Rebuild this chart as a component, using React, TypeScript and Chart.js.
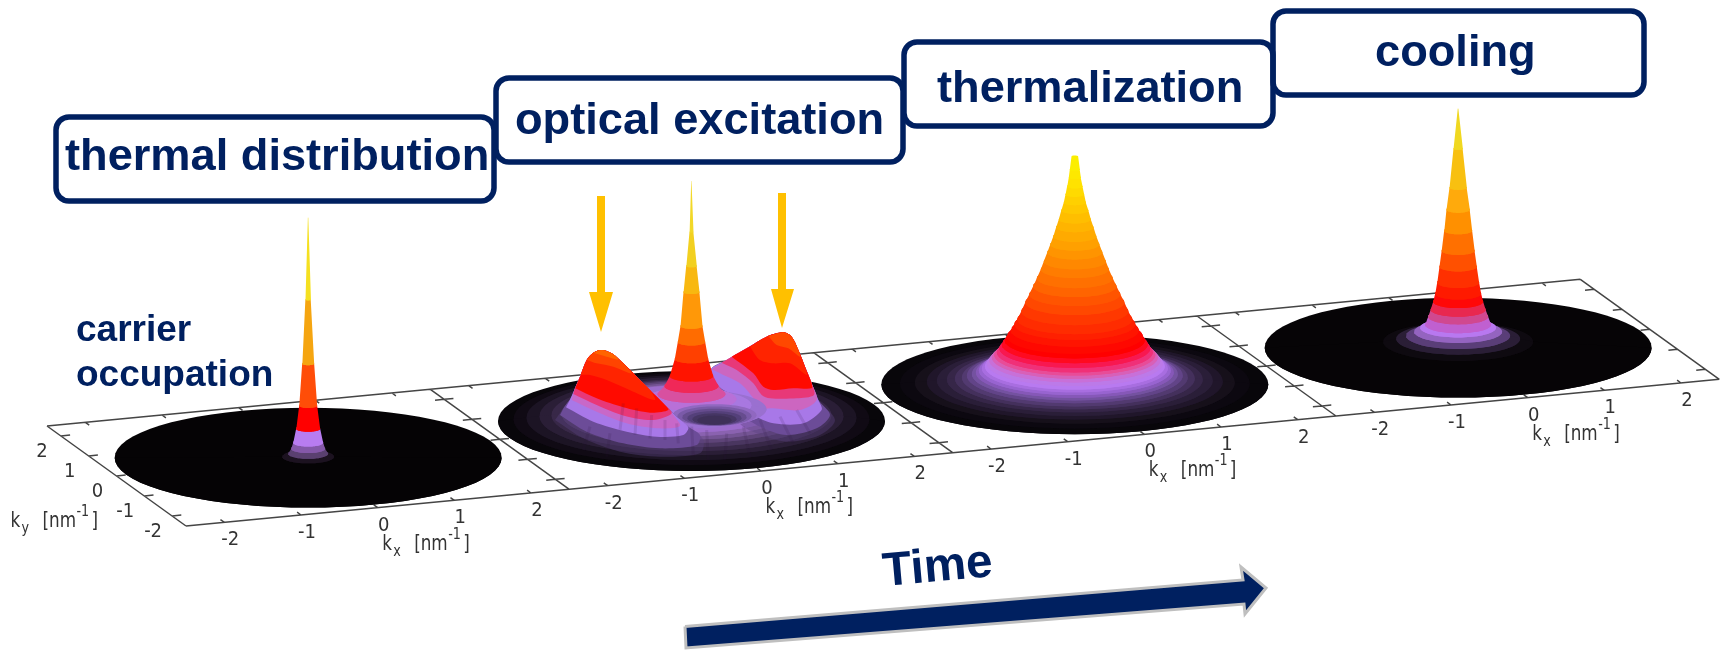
import React, { useEffect, useRef } from "react";
import { Chart, registerables } from "chart.js";
Chart.register(...registerables);

const kxTicks = [-2, -1, 0, 1, 2];
const kyTicks = [-2, -1, 0, 1, 2];
const kxLabels = ["-2", "-1", "0", "1", "2"];
const kyLabels = ["-2", "-1", "0", "1", "2"];
const stageNames = ["thermal distribution", "optical excitation", "thermalization", "cooling"];

// rings of each carrier occupation surface: radius and height above the plane, outermost first
const thermalRadius = [193.5, 26, 20, 17, 15, 12, 9, 6, 2.8, 0.3];
const thermalHeight = [0, 1, 4, 9, 15, 29, 52, 94, 158, 240];
const thermalColors = ["#050305", "#1c1220", "#5a4070", "#8458a8", "#b87cf0", "#ff0000", "#ff4d08", "#f5a510", "#f5e020"];

const hotRadius = [193.5, 175, 160, 148, 138, 128, 120, 113, 108, 103, 99, 96, 93, 90, 88, 85.5, 83, 80.5, 78, 75.5, 73, 70, 68, 64, 60.5, 57.5, 53.5, 49.5, 45.5, 41.7, 38, 34, 31, 27.5, 24.5, 21.5, 18.7, 16, 13.5, 11, 9.3, 7.7, 6, 5, 3.3];
const hotHeight = [0, 1, 2, 3, 4, 5, 6, 7, 9, 10.5, 12, 14, 16, 18, 21, 24, 27, 29.5, 32, 36, 40, 44, 48, 54, 60, 65, 73, 82, 90, 98, 106, 115, 123, 132, 140, 148, 157, 165, 174, 182, 190, 198, 207, 215, 228];
const hotColors = ["#08060a", "#0c0810", "#16101a", "#20162a", "#2a1e38", "#362648", "#44305c", "#523a70", "#624488", "#7452a0", "#8658b8", "#9864d0", "#a86ee0", "#b87af0", "#bc7ae8", "#c870d8", "#d860b8", "#e84c98", "#f03078", "#f81850", "#ff0a20", "#ff0000", "#ff0800", "#ff1400", "#ff2000", "#ff2c00", "#ff3800", "#ff4800", "#ff5400", "#ff6400", "#ff7000", "#ff7c00", "#ff8800", "#ff9400", "#ffa000", "#ffaa00", "#ffb400", "#ffbe00", "#ffc800", "#ffd000", "#ffda00", "#ffe200", "#fde800", "#fbee00"];

const coolRadius = [193.5, 75, 62, 52, 44, 38, 33, 30, 27.5, 25, 23, 21, 18.7, 16.5, 14, 11.7, 8.7, 4.7, 0.4];
const coolHeight = [0, 6, 9, 12, 16, 20, 23, 31, 38, 46, 54, 65, 81, 97, 117, 138, 160, 199, 239];
const coolColors = ["#060406", "#0e0a10", "#2a1e36", "#5a3e78", "#9464c0", "#b878f0", "#c060d0", "#d04890", "#e82850", "#ff0808", "#ff1a00", "#ff3000", "#ff5000", "#ff7000", "#ff9000", "#ffaa0c", "#f8c010", "#f0d820"];

const opticalRadius = [193.5, 178, 165, 152, 140, 130, 120, 110, 100, 92, 85];
const opticalHeight = [0, 2, 3.5, 5, 6, 7.5, 9, 10, 11, 12.5, 14];
const opticalColors = ["#08060a", "#100a14", "#1c1424", "#2a1e36", "#382848", "#4a3660", "#5e4478", "#745494", "#8a62b0", "#9c6ccc"];

const spikeRadius = [75, 60, 45, 34, 27, 21.7, 16.7, 13.7, 11, 8, 5.3, 2, 0.3];
const spikeHeight = [12, 16, 22, 27, 35, 45, 62, 79, 95, 129, 155, 189, 240];
const spikeColors = ["#9a70d0", "#a878e0", "#b870d8", "#d850a0", "#f02858", "#ff1400", "#ff4000", "#ff6c00", "#ff9808", "#f8b810", "#f2d020", "#f2d828"];

const dimpleRadius = [42, 37, 32, 27, 22, 17];
const dimpleHeight = [6, 5, 4, 3, 2, 1];
const dimpleColors = ["#9068c0", "#7a5aa8", "#664c8e", "#54407a", "#463664", "#3e3058"];

// lobes of the optically excited carriers, widest band first
const rightLobeBands = [
  [[495,215],[515,145],[560,120],[620,85],[680,50],[730,37],[755,50],[775,90],[795,140],[815,190],[835,240],[885,300],[840,345],[740,365],[650,340],[600,310],[630,270],[560,240]],
  [[500,200],[515,145],[560,120],[620,85],[680,50],[730,37],[755,50],[775,90],[795,140],[815,190],[835,240],[870,285],[830,325],[740,345],[660,320],[620,290],[640,260],[560,230]],
  [[510,170],[515,145],[560,120],[620,85],[680,50],[730,37],[755,50],[775,90],[795,140],[815,190],[835,240],[845,270],[790,310],[700,310],[640,285],[620,265],[610,235],[550,210]],
  [[515,148],[560,120],[620,85],[680,50],[730,37],[755,50],[775,90],[795,140],[815,190],[830,240],[780,270],[700,265],[655,265],[640,235],[600,190],[550,165]],
  [[545,128],[620,85],[680,50],[730,37],[755,50],[775,90],[795,140],[815,190],[822,225],[770,235],[690,235],[665,225],[640,190],[590,150]],
  [[575,110],[620,85],[680,50],[730,37],[755,50],[775,90],[795,140],[815,190],[815,205],[760,205],[700,210],[670,200],[640,160]],
  [[630,80],[680,50],[730,37],[755,50],[775,90],[795,140],[800,165],[750,130],[700,130],[660,120]],
  [[685,48],[730,37],[755,50],[775,90],[780,110],[745,85],[710,75]],
];
const rightLobeColors = ["rgba(90,64,128,0.4)", "#6c4c98", "#a878e8", "#cc66c0", "#e83878", "#ff0a00", "#ff2400", "#ff4800"];

const leftLobeBands = [
  [[45,300],[75,258],[92,235],[105,205],[122,165],[140,120],[160,98],[185,90],[215,100],[250,130],[290,170],[330,210],[370,250],[410,290],[445,320],[490,360],[480,400],[360,410],[240,395],[130,355]],
  [[60,285],[75,258],[92,235],[105,205],[122,165],[140,120],[160,98],[185,90],[215,100],[250,130],[290,170],[330,210],[370,250],[410,290],[445,320],[480,345],[470,375],[360,385],[250,370],[140,335]],
  [[78,262],[92,235],[105,205],[122,165],[140,120],[160,98],[185,90],[215,100],[250,130],[290,170],[330,210],[370,250],[410,290],[445,322],[430,345],[350,350],[260,335],[160,305]],
  [[95,240],[105,205],[122,165],[140,120],[160,98],[185,90],[215,100],[250,130],[290,170],[330,210],[370,250],[400,285],[420,318],[350,325],[260,310],[170,275]],
  [[100,222],[105,205],[122,165],[140,120],[160,98],[185,90],[215,100],[250,130],[290,170],[330,210],[370,250],[395,280],[340,300],[255,288],[170,255]],
  [[106,205],[122,165],[140,120],[160,98],[185,90],[215,100],[250,130],[290,170],[330,210],[370,250],[385,270],[330,278],[250,262],[170,235]],
  [[122,165],[140,120],[160,98],[185,90],[215,100],[250,130],[290,170],[330,210],[345,240],[280,215],[200,180],[150,165]],
  [[140,120],[160,98],[185,90],[215,100],[250,130],[275,160],[220,140],[170,130]],
  [[160,98],[185,90],[215,100],[235,118],[200,110]],
];
const leftLobeColors = ["rgba(90,64,128,0.4)", "#6c4c98", "#a878e8", "#c868c8", "#e83878", "#ff0a00", "#ff2400", "#ff4400", "#ff6400"];

const ripples = [
  [[250,250],[240,330]], [[290,265],[285,345]], [[335,285],[330,355]], [[375,300],[375,360]], [[410,310],[415,370]],
  [[455,320],[460,410]], [[500,330],[505,420]], [[560,340],[555,420]], [[610,320],[630,410]], [[660,300],[695,390]],
  [[720,290],[760,370]], [[770,270],[810,340]], [[150,320],[130,390]], [[210,340],[200,410]],
];

const leftPump = [[597,196],[605,196],[605,292],[613,292],[601,332],[589,292],[597,292]];
const rightPump = [[778,193],[786,193],[786,289],[794,289],[782,328],[771,289],[778,289]];
const timeArrow = [[685,626.5],[686,648],[1244,604],[1245,614],[1266,588],[1241,567],[1243,580],[685,626.5]];

const navy = "#002060";
const ink = "#333333";
const panelStep = { x: 383.33, y: -36.67 };
const depth = { x: 139, y: 100 };
const origin = { x: 47, y: 426 };
const squash = 0.258;

function frame(i: number, kx: number, ky: number) {
  const a = (kx + 2.5) / 5, b = (2.5 - ky) / 5;
  return { x: origin.x + (i + a) * panelStep.x + b * depth.x, y: origin.y + (i + a) * panelStep.y + b * depth.y };
}

function ellipseArc(cx: number, cy: number, r: number, from: number, to: number) {
  const pts = [];
  const n = 36;
  for (let j = 0; j <= n; j++) {
    const t = from + ((to - from) * j) / n;
    pts.push({ x: cx + r * Math.cos(t), y: cy + r * squash * Math.sin(t) });
  }
  return pts;
}

function polygon(points: { x: number; y: number }[], color: string, extra: object = {}) {
  return { data: points, showLine: true, fill: "shape", backgroundColor: color, borderColor: color, borderWidth: 0, pointRadius: 0, ...extra };
}

function surface(cx: number, cy: number, radius: number[], height: number[], colors: string[]) {
  const out = [];
  for (let k = 0; k < colors.length; k++) {
    const low = ellipseArc(cx, cy - height[k], radius[k], 0, Math.PI);
    const lowBack = ellipseArc(cx, cy - height[k], radius[k], Math.PI, 2 * Math.PI);
    const high = ellipseArc(cx, cy - height[k + 1], radius[k + 1], Math.PI, 2 * Math.PI);
    out.push(polygon([...low, ...lowBack], colors[k]));
    out.push(polygon([...low, ...high, low[0]], colors[k]));
  }
  return out;
}

function crop(list: number[][]) {
  const pts = list.map(([x, y]) => ({ x: 540 + x / 3, y: 320 + y / 3 }));
  return [...pts, pts[0]];
}

function plain(list: number[][]) {
  return list.map(([x, y]) => ({ x, y }));
}

function frameLines() {
  const seg: any[] = [];
  const add = (a: any, b: any) => seg.push(a, b, { x: null, y: null });
  for (let i = 0; i < 4; i++) {
    add(frame(i, -2.5, 2.5), frame(i + 1, -2.5, 2.5));
    add(frame(i, -2.5, -2.5), frame(i + 1, -2.5, -2.5));
    add(frame(i, -2.5, 2.5), frame(i, -2.5, -2.5));
    if (i === 3) add(frame(i, 2.5, 2.5), frame(i, 2.5, -2.5));
    for (const v of kxTicks) {
      add(frame(i, v, 2.5), frame(i, v, 2.36));
      add(frame(i, v, -2.5), frame(i, v, -2.36));
    }
    for (const v of kyTicks) {
      add(frame(i, -2.5, v), frame(i, -2.38, v));
      add(frame(i, 2.5, v), frame(i, 2.38, v));
    }
  }
  return seg;
}

function rippleLines() {
  const seg: any[] = [];
  ripples.forEach((r) => {
    const p = crop(r);
    seg.push(p[0], p[1], { x: null, y: null });
  });
  return seg;
}

function buildDatasets() {
  const ds: any[] = [];
  ds.push({ data: frameLines(), showLine: true, borderColor: "#454545", borderWidth: 1.5, pointRadius: 0, fill: false });
  const c0 = frame(0, 0, 0), c1 = frame(1, 0, 0), c2 = frame(2, 0, 0), c3 = frame(3, 0, 0);
  ds.push(...surface(c0.x, c0.y, thermalRadius, thermalHeight, thermalColors));
  ds.push(...surface(c1.x, c1.y, opticalRadius, opticalHeight, opticalColors));
  rightLobeBands.forEach((b, k) => ds.push(polygon(crop(b), rightLobeColors[k], { tension: 0.3 })));
  ds.push(...surface(c1.x, c1.y, spikeRadius, spikeHeight, spikeColors));
  ds.push(...surface(c1.x + 23, c1.y, dimpleRadius, dimpleHeight, dimpleColors));
  leftLobeBands.forEach((b, k) => ds.push(polygon(crop(b), leftLobeColors[k], { tension: 0.3 })));
  ds.push({ data: rippleLines(), showLine: true, borderColor: "rgba(40,15,60,0.12)", borderWidth: 3, pointRadius: 0, fill: false });
  ds.push(...surface(c2.x, c2.y, hotRadius, hotHeight, hotColors));
  ds.push(...surface(c3.x, c3.y, coolRadius, coolHeight, coolColors));
  ds.push(polygon(plain(leftPump), "#ffc000"), polygon(plain(rightPump), "#ffc000"));
  ds.push(polygon(plain(timeArrow), navy, { borderColor: "#bfbfbf", borderWidth: 3 }));
  return ds.reverse();
}

const boxes = [
  [56, 117, 438, 84], [496, 78, 407, 84], [904, 42, 369, 84], [1273, 11, 371, 84],
];
const stageAnchors = [[65, 170], [515, 134], [937, 102], [1375, 66]];

const annotations = {
  id: "annotations",
  afterDatasetsDraw(chart: any) {
    const { ctx, scales } = chart;
    const X = (v: number) => scales.x.getPixelForValue(v);
    const Y = (v: number) => scales.y.getPixelForValue(v);
    const text = (s: string, x: number, y: number, font: string, color: string, align = "left", hs = 1, rot = 0) => {
      ctx.save();
      ctx.translate(X(x), Y(y));
      ctx.rotate(rot);
      ctx.scale(hs, 1);
      ctx.font = font;
      ctx.fillStyle = color;
      ctx.textAlign = align;
      ctx.textBaseline = "alphabetic";
      ctx.fillText(s, 0, 0);
      ctx.restore();
    };
    ctx.save();
    ctx.strokeStyle = navy;
    ctx.lineWidth = 5.5;
    boxes.forEach(([x, y, w, h]) => {
      ctx.beginPath();
      ctx.roundRect(X(x), Y(y), w, h, 13);
      ctx.stroke();
    });
    ctx.restore();
    const big = 'bold 45.2px "Liberation Sans"';
    stageNames.forEach((s, i) => text(s, stageAnchors[i][0], stageAnchors[i][1], big, navy));
    const mid = 'bold 37px "Liberation Sans"';
    text("carrier", 76, 341, mid, navy);
    text("occupation", 76, 386, mid, navy);
    text("Time", 884, 586, 'bold 47.5px "Liberation Sans"', navy, "left", 1, -0.09);
    const num = '20px "DejaVu Sans"';
    const word = '21px "DejaVu Sans"';
    const sub = '15px "DejaVu Sans"';
    const axisName = (axis: string, bx: number, by: number) => {
      text("k", bx, by, word, ink, "left", 0.8);
      text(axis, bx + 11, by + 6, sub, ink, "left", 0.85);
      text("[nm", bx + 32, by, word, ink, "left", 0.8);
      text("-1", bx + 66, by - 11, sub, ink, "left", 0.85);
      text("]", bx + 81, by, word, ink, "left", 0.8);
    };
    for (let i = 0; i < 4; i++) {
      kxTicks.forEach((v, k) => {
        const p = frame(i, v, -2.5);
        text(kxLabels[k], p.x + 6, p.y + 23, num, ink, "center", 0.9);
      });
      const a = frame(i, 0, -2.5);
      axisName("x", a.x + 4.5, a.y + 42);
    }
    kyTicks.forEach((v, k) => {
      const p = frame(0, -2.5, v);
      text(kyLabels[k], p.x - 19, p.y + 21, num, ink, "center", 0.9);
    });
    axisName("y", 10.5, 527);
  },
};

export default function App() {
  const ref = useRef<HTMLCanvasElement>(null);
  useEffect(() => {
    const chart = new Chart(ref.current as any, {
      type: "scatter",
      data: { datasets: buildDatasets() },
      options: {
        animation: false,
        responsive: false,
        devicePixelRatio: 1,
        layout: { padding: 0 },
        elements: { line: { tension: 0 } },
        plugins: { legend: { display: false }, tooltip: { enabled: false }, filler: { drawTime: "beforeDatasetDraw" } },
        scales: {
          x: { type: "linear", display: false, min: 0, max: 1725 },
          y: { type: "linear", display: false, min: 0, max: 650, reverse: true },
        },
      },
      plugins: [annotations],
    } as any);
    return () => chart.destroy();
  }, []);
  return (
    <div style={{ position: "absolute", left: 0, top: 0, width: 1725, height: 650, background: "#fff" }}>
      <canvas ref={ref} width={1725} height={650} style={{ display: "block", filter: "blur(0.6px)" }} />
    </div>
  );
}
